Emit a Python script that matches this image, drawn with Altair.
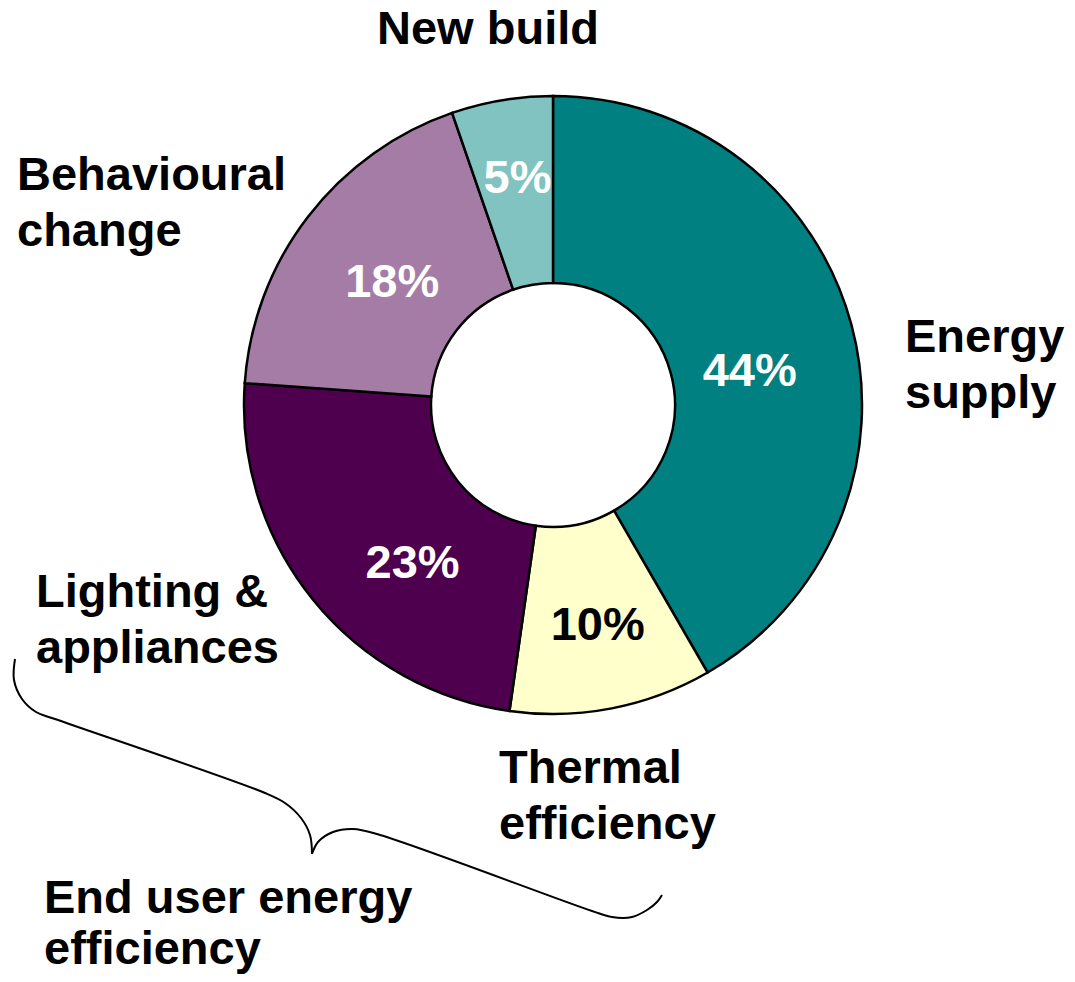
import altair as alt
import pandas as pd

# ---- data ----
categories = ["Energy supply", "Thermal efficiency", "Lighting & appliances",
              "Behavioural change", "New build"]
shares = [41.7, 10.6, 23.9, 18.6, 5.3]          # slice sizes (as drawn)
pct_labels = ["44%", "10%", "23%", "18%", "5%"]  # printed labels
slice_colors = ["#008080", "#FFFFCC", "#4E004E", "#A57CA6", "#80C3C0"]

outer_labels = ["New build", "Energy\nsupply", "Behavioural\nchange",
                "Lighting &\nappliances", "Thermal\nefficiency",
                "End user energy\nefficiency"]

# brace annotation path (page pixels)
brace_left_x = [15, 14, 22, 36, 55, 265, 285, 301, 310, 312]
brace_left_y = [659, 680, 699, 712, 719, 793, 803, 818, 835, 854]
brace_right_x = [312, 318, 333, 353, 377, 592, 612, 632, 647, 657, 662]
brace_right_y = [854, 842, 832, 829, 834, 911, 917, 917, 910, 902, 895]

# ---- layout ----
W, H = 1059, 966
M = 8
CX, CY = 553 - M, 405 - M
R_OUT, R_IN = 309, 122
FONT = "Liberation Sans"
FS = 47

pie_df = pd.DataFrame({
    "cat": categories,
    "value": shares,
    "label": pct_labels,
    "idx": list(range(len(categories))),
})

brace_df = pd.DataFrame({
    "x": brace_left_x + brace_right_x,
    "y": brace_left_y + brace_right_y,
    "seg": ["L"] * len(brace_left_x) + ["R"] * len(brace_right_x),
    "o": list(range(len(brace_left_x))) + list(range(len(brace_right_x))),
})

xs = alt.Scale(domain=[M, M + W], range=[0, W], zero=False, nice=False)
ys = alt.Scale(domain=[M, M + H], range=[0, H], zero=False, nice=False)

brace = alt.Chart(brace_df).mark_line(
    color="black", strokeWidth=2, interpolate="catmull-rom"
).encode(
    x=alt.X("x:Q", scale=xs, axis=None),
    y=alt.Y("y:Q", scale=ys, axis=None),
    detail="seg:N",
    order="o:Q",
)

arcs = alt.Chart(pie_df).mark_arc(
    outerRadius=R_OUT, innerRadius=R_IN, stroke="black", strokeWidth=2.5
).encode(
    theta=alt.Theta("value:Q", stack=True),
    color=alt.Color("cat:N", scale=alt.Scale(domain=categories, range=slice_colors),
                    legend=None),
    order=alt.Order("idx:Q"),
    x=alt.value(CX),
    y=alt.value(CY),
)

layers = [brace, arcs]

# percentage labels: placed at slice mid-angle, with small per-label nudges
nudges = {"Energy supply": (-10, 22), "Thermal efficiency": (4, 11),
          "Lighting & appliances": (26, 25), "Behavioural change": (9, 8),
          "New build": (0, -15)}
for cat in categories:
    ndx, ndy = nudges[cat]
    layers.append(
        alt.Chart(pie_df).mark_text(
            radius=214, font=FONT, fontSize=FS, fontWeight="bold",
            align="center", baseline="middle", dx=ndx, dy=ndy
        ).encode(
            theta=alt.Theta("value:Q", stack=True),
            order=alt.Order("idx:Q"),
            text="label:N",
            color=alt.condition(alt.datum.cat == "Thermal efficiency",
                                alt.value("black"), alt.value("white")),
            opacity=alt.condition(alt.datum.cat == cat, alt.value(1), alt.value(0)),
            x=alt.value(CX),
            y=alt.value(CY),
        )
    )

# outer annotation text placements (page px: x, first-line baseline, align, line height)
placements = [
    (488, 44, "center", 57),
    (905, 352, "left", 56),
    (17, 190, "left", 56),
    (36, 607, "left", 56),
    (499, 783, "left", 56),
    (44, 913, "left", 51),
]

for txt, (px, py, al, lh) in zip(outer_labels, placements):
    layers.append(
        alt.Chart(pd.DataFrame({"t": [txt]})).mark_text(
            font=FONT, fontSize=FS, fontWeight="bold", align=al,
            baseline="alphabetic", lineBreak="\n", lineHeight=lh, color="black"
        ).encode(
            text="t:N",
            x=alt.value(px - M),
            y=alt.value(py - M),
        )
    )

chart = alt.layer(*layers).properties(
    width=W, height=H,
    autosize=alt.AutoSizeParams(type="none"),
    padding=0,
).configure_view(strokeWidth=0)

chart.save("out.html", embed_options={"renderer": "svg", "actions": False})
